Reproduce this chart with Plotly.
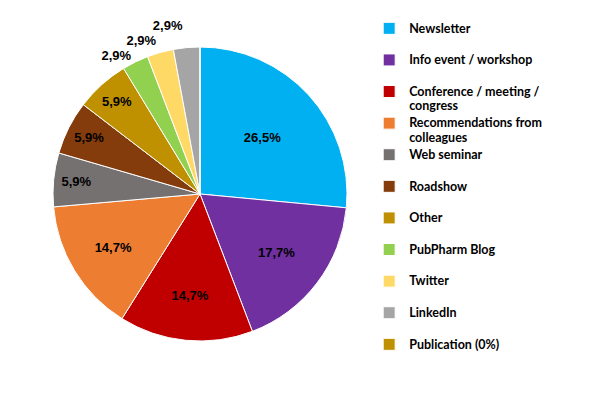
import plotly.graph_objects as go

categories = ["Newsletter", "Info event / workshop", "Conference / meeting /<br>congress",
              "Recommendations from<br>colleagues", "Web seminar", "Roadshow", "Other",
              "PubPharm Blog", "Twitter", "LinkedIn", "Publication (0%)"]
values = [26.5, 17.7, 14.7, 14.7, 5.9, 5.9, 5.9, 2.9, 2.9, 2.9, 0.0]
value_labels = ["26,5%", "17,7%", "14,7%", "14,7%", "5,9%", "5,9%", "5,9%", "2,9%", "2,9%", "2,9%", ""]
colors = ["#00B0F0", "#7030A0", "#C00000", "#ED7D31", "#767171", "#843C0C", "#BF9000",
          "#92D050", "#FFD966", "#A5A5A5", "#BF9000"]


def legend_text(c):
    lines = c.split("<br>")
    if len(lines) == 1:
        lines.append("&nbsp;")
    return "<br>".join('<span style="font-size:12.5px">%s</span>' % l for l in lines)


legend_labels = [legend_text(c) for c in categories]
positions = ["inside" if v > 5 else "outside" for v in values]
shown_text = ['<span style="color:black">%s</span>' % t if t else "" for t in value_labels]

fig = go.Figure(go.Pie(
    labels=legend_labels,
    values=values,
    text=shown_text,
    textinfo="text",
    textposition=positions,
    insidetextorientation="horizontal",
    sort=False,
    direction="clockwise",
    rotation=0,
    marker=dict(colors=colors, line=dict(color="white", width=1)),
    insidetextfont=dict(family="Liberation Sans", size=13, color="black", weight="bold"),
    outsidetextfont=dict(family="Liberation Sans", size=13, color="white", weight="bold"),
    domain=dict(x=[45/597, 339/597], y=[60/393, 354/393]),
    showlegend=True,
))

fig.update_layout(
    width=597, height=393,
    margin=dict(l=0, r=0, t=0, b=0),
    paper_bgcolor="white",
    plot_bgcolor="white",
    legend=dict(
        x=0.605, y=0.983, xanchor="left", yanchor="top",
        font=dict(family="Lato", size=11, color="black", weight="bold"),
        valign="top",
        itemwidth=30,
        traceorder="normal",
    ),
)

fig.write_html("out.html")
